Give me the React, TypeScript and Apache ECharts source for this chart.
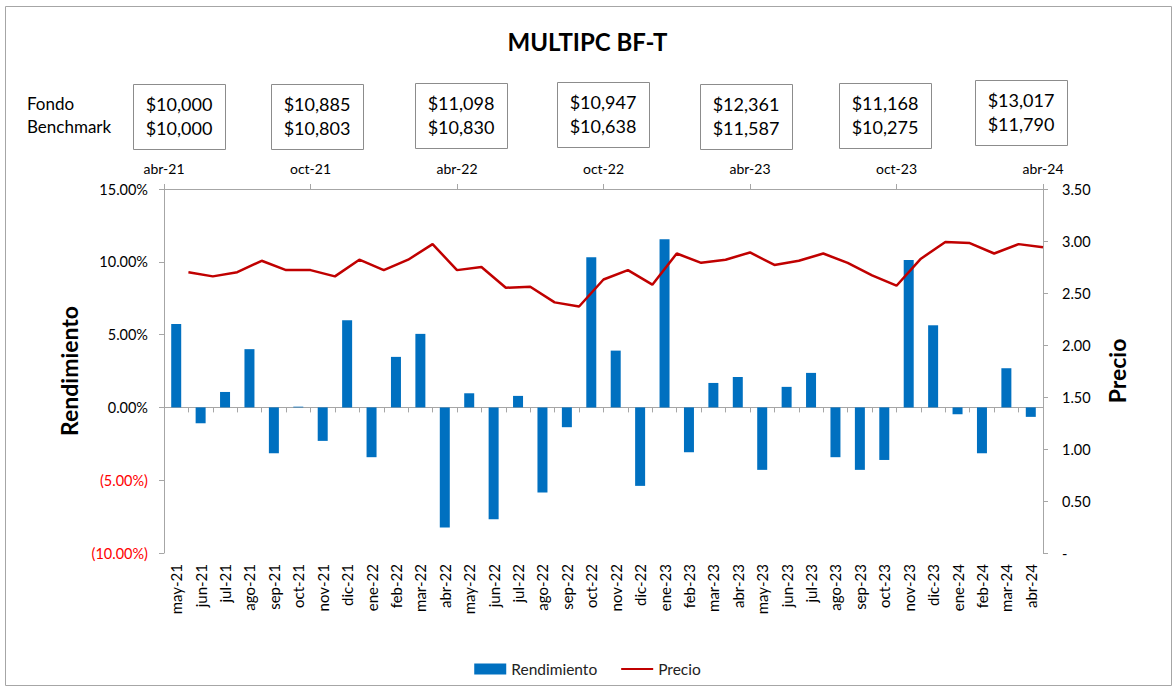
import React, { useEffect, useRef } from "react";
import * as echarts from "echarts";

const months = [
  "may-21", "jun-21", "jul-21", "ago-21", "sep-21", "oct-21", "nov-21", "dic-21",
  "ene-22", "feb-22", "mar-22", "abr-22", "may-22", "jun-22", "jul-22", "ago-22",
  "sep-22", "oct-22", "nov-22", "dic-22", "ene-23", "feb-23", "mar-23", "abr-23",
  "may-23", "jun-23", "jul-23", "ago-23", "sep-23", "oct-23", "nov-23", "dic-23",
  "ene-24", "feb-24", "mar-24", "abr-24",
];

// top (secondary) axis: month-end boundaries, starting one month earlier
const topAxisLabels = ["abr-21", ...months];

const rendimiento = [
  5.73, -1.09, 1.06, 4.0, -3.15, 0.05, -2.3, 5.99, -3.42, 3.47, 5.05, -8.25,
  0.97, -7.68, 0.79, -5.85, -1.36, 10.32, 3.9, -5.39, 11.55, -3.08, 1.68, 2.09,
  -4.29, 1.41, 2.37, -3.42, -4.29, -3.61, 10.13, 5.64, -0.47, -3.15, 2.69, -0.65,
];

const precio = [
  2.7, 2.66, 2.7, 2.81, 2.72, 2.72, 2.66, 2.82, 2.72, 2.82, 2.97, 2.72,
  2.75, 2.55, 2.56, 2.41, 2.37, 2.63, 2.72, 2.58, 2.88, 2.79, 2.82, 2.89,
  2.77, 2.81, 2.88, 2.79, 2.67, 2.57, 2.83, 2.99, 2.98, 2.88, 2.97, 2.94,
];

const boxDates = ["abr-21", "oct-21", "abr-22", "oct-22", "abr-23", "oct-23", "abr-24"];
const fondoValues = [10000, 10885, 11098, 10947, 12361, 11168, 13017];
const benchmarkValues = [10000, 10803, 10830, 10638, 11587, 10275, 11790];

const FONT = "Lato";
const AXIS_COLOR = "#A6A6A6";

const boxLeft = [133, 271, 415, 557, 700, 839, 975];
const boxTop = [84, 84, 83, 82, 84, 83, 80];

const fmtMoney = (v: number) => "$" + v.toLocaleString("en-US");

export default function App() {
  const ref = useRef<HTMLDivElement>(null);

  useEffect(() => {
    if (!ref.current) return;
    const chart = echarts.init(ref.current, undefined, { renderer: "svg" });

    const boxes: any[] = boxDates.map((d, i) => ({
      type: "group",
      x: boxLeft[i],
      y: boxTop[i],
      children: [
        {
          type: "rect",
          shape: { x: 0.5, y: 0.5, width: 92, height: 65 },
          style: { fill: "#fff", stroke: "#8C8C8C", lineWidth: 1 },
        },
        {
          type: "text",
          x: 46,
          y: 20,
          style: {
            text: fmtMoney(fondoValues[i]),
            font: `18px ${FONT}`,
            fill: "#000",
            textAlign: "center",
            textVerticalAlign: "middle",
          },
        },
        {
          type: "text",
          x: 46,
          y: 44,
          style: {
            text: fmtMoney(benchmarkValues[i]),
            font: `18px ${FONT}`,
            fill: "#000",
            textAlign: "center",
            textVerticalAlign: "middle",
          },
        },
      ],
    }));

    const option: any = {
      animation: false,
      backgroundColor: "#fff",
      textStyle: { fontFamily: FONT },
      title: {
        text: "MULTIPC BF-T",
        left: "center",
        top: 24,
        textStyle: { fontFamily: FONT, fontSize: 24, fontWeight: "bold", color: "#000" },
      },
      legend: {
        top: 656,
        left: "center",
        itemWidth: 32,
        itemHeight: 11,
        itemGap: 23,
        textStyle: { fontFamily: FONT, fontSize: 15.5, color: "#222" },
        data: [
          { name: "Rendimiento", icon: "rect" },
          { name: "Precio", itemStyle: { opacity: 0 } },
        ],
      },
      grid: { left: 164, right: 132, top: 189, bottom: 135, containLabel: false },
      xAxis: [
        {
          type: "category",
          data: months,
          position: "bottom",
          axisLine: { show: true, onZero: true, lineStyle: { color: AXIS_COLOR, width: 1 } },
          axisTick: { show: true, length: 5, interval: 0, lineStyle: { color: AXIS_COLOR } },
          axisLabel: { show: false },
          splitLine: { show: false },
        },
        {
          type: "category",
          data: topAxisLabels,
          position: "top",
          boundaryGap: false,
          axisLine: { show: true, onZero: false, lineStyle: { color: AXIS_COLOR, width: 1 } },
          axisTick: { show: true, length: 5, interval: 5, lineStyle: { color: AXIS_COLOR } },
          axisLabel: { show: true, interval: 5, margin: 14, fontFamily: FONT, fontSize: 14, color: "#000" },
          splitLine: { show: false },
        },
        {
          type: "category",
          data: months,
          position: "bottom",
          axisLine: { show: false, onZero: false },
          axisTick: { show: false },
          axisLabel: {
            show: true,
            interval: 0,
            rotate: 90,
            margin: 11,
            fontFamily: FONT,
            fontSize: 15,
            color: "#000",
          },
          splitLine: { show: false },
        },
      ],
      yAxis: [
        {
          type: "value",
          min: -10,
          max: 15,
          interval: 5,
          position: "left",
          name: "Rendimiento",
          nameLocation: "middle",
          nameGap: 80,
          nameTextStyle: { fontFamily: FONT, fontSize: 23, fontWeight: "bold", color: "#000" },
          axisLine: { show: true, lineStyle: { color: AXIS_COLOR, width: 1 } },
          axisTick: { show: true, length: 5, lineStyle: { color: AXIS_COLOR } },
          splitLine: { show: false },
          axisLabel: {
            margin: 16,
            fontFamily: FONT,
            fontSize: 14.5,
            formatter: (v: number) =>
              v < 0 ? `(${Math.abs(v).toFixed(2)}%)` : `${v.toFixed(2)}%`,
            color: (v: any) => (parseFloat(v) < 0 ? "#FF0000" : "#000"),
          },
        },
        {
          type: "value",
          min: 0,
          max: 3.5,
          interval: 0.5,
          position: "right",
          name: "Precio",
          nameLocation: "middle",
          nameGap: 62,
          nameRotate: 90,
          nameTextStyle: { fontFamily: FONT, fontSize: 23, fontWeight: "bold", color: "#000" },
          axisLine: { show: true, lineStyle: { color: AXIS_COLOR, width: 1 } },
          axisTick: { show: true, length: 5, lineStyle: { color: AXIS_COLOR } },
          splitLine: { show: false },
          axisLabel: {
            margin: 19,
            fontFamily: FONT,
            fontSize: 14.5,
            color: "#000",
            formatter: (v: number) => (v === 0 ? "-" : v.toFixed(2)),
          },
        },
      ],
      series: [
        {
          name: "Rendimiento",
          type: "bar",
          xAxisIndex: 0,
          yAxisIndex: 0,
          data: rendimiento,
          barWidth: 10,
          itemStyle: { color: "#0070C0" },
        },
        {
          name: "Precio",
          type: "line",
          xAxisIndex: 1,
          yAxisIndex: 1,
          data: [null, ...precio],
          symbol: "none",
          lineStyle: { color: "#C00000", width: 2.5 },
          itemStyle: { color: "#C00000" },
        },
      ],
      graphic: [
        {
          type: "rect",
          silent: true,
          z: -10,
          shape: { x: 5.5, y: 6.5, width: 1166, height: 679 },
          style: { fill: "none", stroke: "#A6A6A6", lineWidth: 1 },
        },
        {
          type: "text",
          x: 27,
          y: 103,
          style: { text: "Fondo", font: `17px ${FONT}`, fill: "#000", textVerticalAlign: "middle" },
        },
        {
          type: "text",
          x: 27,
          y: 126,
          style: { text: "Benchmark", font: `17px ${FONT}`, fill: "#000", textVerticalAlign: "middle" },
        },
        ...boxes,
      ],
    };

    chart.setOption(option);
    return () => chart.dispose();
  }, []);

  return (
    <div
      ref={ref}
      style={{ position: "fixed", left: 0, top: 0, width: 1175, height: 688, background: "#fff" }}
    />
  );
}
